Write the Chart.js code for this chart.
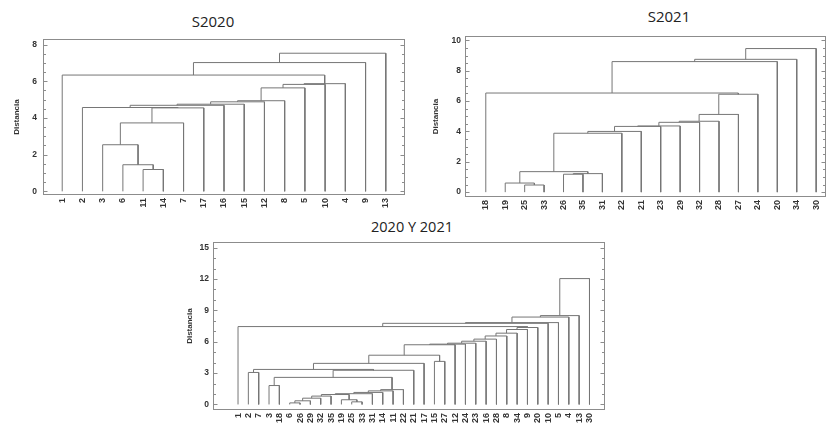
<!DOCTYPE html>
<html>
<head>
<meta charset="utf-8">
<script src="https://cdn.jsdelivr.net/npm/chart.js@4.4.0/dist/chart.umd.min.js"></script>
<style>
  html, body { margin: 0; padding: 0; background: #fff; }
  body { width: 830px; height: 425px; position: relative; overflow: hidden; }
  .title { position: absolute; font-family: 'Open Sans', sans-serif; font-size: 15px; color: #222; transform: translateX(-50%); white-space: nowrap; line-height: 1; }
  .box { position: absolute; }
</style>
</head>
<body>
<div class="title" style="left:213px; top:14px;">S2020</div>
<div class="title" style="left:669px; top:9px;">S2021</div>
<div class="title" style="left:412px; top:220px; font-size:14.5px;">2020 Y 2021</div>

<div class="box" style="left:0px; top:28px;"><canvas id="c2020" width="410" height="184"></canvas></div>
<div class="box" style="left:420px; top:27px;"><canvas id="c2021" width="410" height="185"></canvas></div>
<div class="box" style="left:170px; top:233px;"><canvas id="cBoth" width="440" height="192"></canvas></div>

<script>
// S2020: leaf order and merges (children are leaf names or 'cN' = merge N)
const s2020Leaves = ['1', '2', '3', '6', '11', '14', '7', '17', '16', '15', '12', '8', '5', '10', '4', '9', '13'];
const s2020Left   = ['11', '6', '3', 'c2', 'c3', '2', 'c5', 'c6', 'c7', 'c8', 'c9', 'c10', 'c11', '1', 'c13', 'c14'];
const s2020Right  = ['14', 'c0', 'c1', '7', '17', 'c4', '16', '15', '12', '8', '5', '10', '4', 'c12', '9', '13'];
const s2020Height = [1.19, 1.45, 2.54, 3.73, 4.55, 4.57, 4.69, 4.75, 4.88, 4.94, 5.64, 5.83, 5.87, 6.34, 7.02, 7.53];
const s2020YTicks = [0, 2, 4, 6, 8];

// S2021
const s2021Leaves = ['18', '19', '25', '33', '26', '35', '31', '22', '21', '23', '29', '32', '28', '27', '24', '20', '34', '30'];
const s2021Left   = ['25', '19', '26', 'c2', 'c1', 'c4', 'c5', 'c6', 'c7', 'c8', 'c9', 'c10', 'c11', '18', 'c13', 'c14', 'c15'];
const s2021Right  = ['33', 'c0', '35', '31', 'c3', '22', '21', '23', '29', '32', '28', '27', '24', 'c12', '20', '34', '30'];
const s2021Height = [0.47, 0.60, 1.18, 1.22, 1.35, 3.88, 4.00, 4.33, 4.36, 4.60, 4.67, 5.12, 6.45, 6.53, 8.60, 8.75, 9.46];
const s2021YTicks = [0, 2, 4, 6, 8, 10];

// 2020 Y 2021
const bothLeaves = ['1', '2', '7', '3', '18', '6', '26', '29', '32', '35', '19', '25', '33', '31', '14', '11', '22', '21',
                    '17', '15', '27', '12', '24', '23', '16', '28', '8', '34', '9', '20', '10', '5', '4', '13', '30'];
const bothLeft   = ['2', '3', '6', 'c2', 'c3', 'c4', '25', '19', 'c5', 'c8', 'c9', 'c10', 'c11', 'c1', 'c13', 'c0', 'c15',
                    '15', 'c16', 'c18', 'c19', 'c20', 'c21', 'c22', 'c23', 'c24', 'c25', 'c26', '1', 'c28', 'c29', 'c30', 'c31', 'c32'];
const bothRight  = ['7', '18', '26', '29', '32', '35', '33', 'c6', 'c7', '31', '14', '11', '22', 'c12', '21', 'c14', '17',
                    '27', 'c17', '12', '24', '23', '16', '28', '8', '34', '9', '20', 'c27', '10', '5', '4', '13', '30'];
const bothHeight = [3.06, 1.81, 0.15, 0.35, 0.60, 0.80, 0.25, 0.45, 0.95, 1.03, 1.15, 1.30, 1.42, 2.59, 3.27, 3.35, 3.93,
                    4.12, 4.71, 5.71, 5.77, 5.86, 6.05, 6.25, 6.55, 6.82, 7.17, 7.36, 7.45, 7.76, 7.83, 8.36, 8.50, 12.04];
const bothYTicks = [0, 3, 6, 9, 12, 15];

const lineColor = '#767676';
const labelFont = { family: 'Liberation Sans, Arial, sans-serif', weight: 'bold', size: 8.5 };
const leafFont = { family: 'Liberation Sans, Arial, sans-serif', weight: 'bold', size: 9 };
const axisFont = { family: 'Liberation Sans, Arial, sans-serif', weight: 'bold', size: 8 };

// Function to turn the merges into U shaped paths
function buildLinks(leaves, left, right, height) {
  const pos = {};
  const top = {};
  leaves.forEach((name, i) => { pos[name] = i; top[name] = 0; });
  const links = [];
  left.forEach((a, k) => {
    const b = right[k];
    const h = height[k];
    links.push([
      { x: pos[a], y: top[a] },
      { x: pos[a], y: h },
      { x: pos[b], y: h },
      { x: pos[b], y: top[b] }
    ]);
    pos['c' + k] = (pos[a] + pos[b]) / 2;
    top['c' + k] = h;
  });
  return links;
}

// Frame round the plot area with small inner ticks on both sides
const framePlugin = {
  id: 'frame',
  afterDraw(chart, args, opts) {
    const { ctx, chartArea: a, scales: { y } } = chart;
    ctx.save();
    ctx.strokeStyle = '#8c8c8c';
    ctx.lineWidth = 1;
    const l = Math.round(a.left) + 0.5, r = Math.round(a.right) - 0.5;
    const t = Math.round(a.top) + 0.5, b = Math.round(a.bottom) - 0.5;
    ctx.strokeRect(l, t, r - l, b - t);
    ctx.beginPath();
    for (let v = Math.ceil(y.min / opts.minor) * opts.minor; v <= y.max; v += opts.minor) {
      const py = Math.round(y.getPixelForValue(v)) + 0.5;
      const major = opts.major.some(m => Math.abs(m - v) < 1e-6);
      const len = major ? 4 : 2.5;
      ctx.moveTo(l, py); ctx.lineTo(l + len, py);
      ctx.moveTo(r, py); ctx.lineTo(r - len, py);
    }
    ctx.stroke();
    ctx.restore();
  }
};

function drawDendrogram(id, leaves, left, right, height, cfg) {
  const links = buildLinks(leaves, left, right, height);
  new Chart(document.getElementById(id), {
    type: 'scatter',
    data: {
      datasets: links.map(d => ({
        data: d,
        showLine: true,
        borderColor: lineColor,
        borderWidth: 1,
        pointRadius: 0,
        tension: 0,
        fill: false
      }))
    },
    options: {
      responsive: false,
      animation: false,
      devicePixelRatio: 1,
      layout: { padding: cfg.padding },
      plugins: {
        legend: { display: false },
        tooltip: { enabled: false },
        frame: { major: cfg.yTicks, minor: cfg.minor }
      },
      scales: {
        x: {
          type: 'linear',
          min: cfg.xMin,
          max: cfg.xMax,
          afterBuildTicks: s => { s.ticks = leaves.map((_, i) => ({ value: i })); },
          afterFit: s => { s.height = cfg.xHeight; },
          ticks: {
            autoSkip: false,
            maxRotation: 90,
            minRotation: 90,
            padding: 3,
            color: '#333',
            font: leafFont,
            callback: v => leaves[v]
          },
          grid: { display: false, drawTicks: false },
          border: { display: false }
        },
        y: {
          type: 'linear',
          min: cfg.yMin,
          max: cfg.yMax,
          afterBuildTicks: s => { s.ticks = cfg.yTicks.map(v => ({ value: v })); },
          afterFit: s => { s.width = cfg.yWidth; },
          ticks: { padding: cfg.tickPad, color: '#333', font: labelFont },
          grid: { display: false, drawTicks: false },
          border: { display: false },
          title: {
            display: true,
            text: 'Distancia',
            color: '#333',
            font: axisFont,
            padding: { top: cfg.titlePad, bottom: 0 }
          }
        }
      }
    },
    plugins: [framePlugin]
  });
}

drawDendrogram('c2020', s2020Leaves, s2020Left, s2020Right, s2020Height, {
  padding: { top: 5, right: 5, left: 0, bottom: 0 },
  xMin: -0.95, xMax: 16.95, yMin: -0.2, yMax: 8.3,
  yTicks: s2020YTicks, minor: 0.5,
  xHeight: 17, yWidth: 43, tickPad: 6, titlePad: 12
});

drawDendrogram('c2021', s2021Leaves, s2021Left, s2021Right, s2021Height, {
  padding: { top: 5, right: 1, left: 0, bottom: 0 },
  xMin: -1.07, xMax: 17.53, yMin: -0.32, yMax: 10.28,
  yTicks: s2021YTicks, minor: 0.5,
  xHeight: 15, yWidth: 45, tickPad: 4, titlePad: 11
});

drawDendrogram('cBoth', bothLeaves, bothLeft, bothRight, bothHeight, {
  padding: { top: 5, right: 5, left: 0, bottom: 0 },
  xMin: -2.42, xMax: 35.5, yMin: -0.53, yMax: 15.53,
  yTicks: bothYTicks, minor: 1,
  xHeight: 15, yWidth: 43, tickPad: 4, titlePad: 15
});
</script>
</body>
</html>
